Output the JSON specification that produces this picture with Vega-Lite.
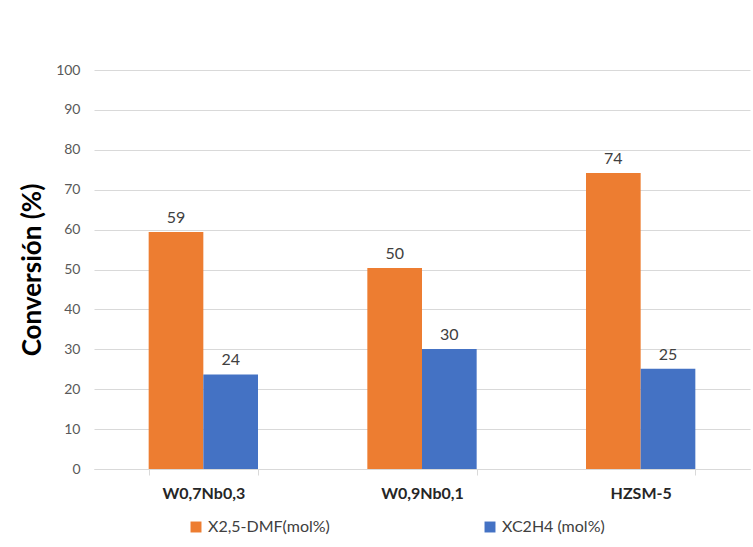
{
  "$schema": "https://vega.github.io/schema/vega-lite/v6.json",
  "autosize": {"type": "none"},
  "width": 656,
  "height": 399,
  "padding": {"left": 94, "top": 70, "right": 3, "bottom": 78},
  "background": "white",
  "config": {
    "font": "Lato",
    "view": {"stroke": null},
    "axis": {"labelFont": "Lato", "titleFont": "Lato"}
  },
  "data": {
    "values": [
      {"catalizador": "W0,7Nb0,3", "serie": "X2,5-DMF(mol%)", "conversion": 59.4},
      {"catalizador": "W0,7Nb0,3", "serie": "XC2H4 (mol%)", "conversion": 23.7},
      {"catalizador": "W0,9Nb0,1", "serie": "X2,5-DMF(mol%)", "conversion": 50.4},
      {"catalizador": "W0,9Nb0,1", "serie": "XC2H4 (mol%)", "conversion": 30.1},
      {"catalizador": "HZSM-5", "serie": "X2,5-DMF(mol%)", "conversion": 74.2},
      {"catalizador": "HZSM-5", "serie": "XC2H4 (mol%)", "conversion": 25.1}
    ]
  },
  "encoding": {
    "x": {
      "field": "catalizador",
      "type": "nominal",
      "sort": ["W0,7Nb0,3", "W0,9Nb0,1", "HZSM-5"],
      "scale": {"paddingInner": 0.5, "paddingOuter": 0.25},
      "axis": {
        "title": null,
        "labelAngle": 0,
        "labelFontWeight": "bold",
        "labelFontSize": 16,
        "labelColor": "#262626",
        "labelPadding": 10,
        "domainColor": "#d9d9d9",
        "tickColor": "#d9d9d9",
        "tickBand": "extent",
        "tickSize": 6
      }
    },
    "xOffset": {"field": "serie", "type": "nominal", "sort": ["X2,5-DMF(mol%)", "XC2H4 (mol%)"]},
    "y": {
      "field": "conversion",
      "type": "quantitative",
      "scale": {"domain": [0, 100]},
      "axis": {
        "title": "Conversión (%)",
        "titleFontSize": 26,
        "titleFontWeight": "bold",
        "titleColor": "#000000",
        "titlePadding": 10,
        "values": [0, 10, 20, 30, 40, 50, 60, 70, 80, 90, 100],
        "labelFontSize": 14,
        "labelColor": "#595959",
        "labelPadding": 14,
        "domain": false,
        "ticks": false,
        "gridColor": "#d9d9d9",
        "gridWidth": 1.2
      }
    }
  },
  "layer": [
    {
      "mark": {"type": "bar"},
      "encoding": {
        "color": {
          "field": "serie",
          "type": "nominal",
          "sort": ["X2,5-DMF(mol%)", "XC2H4 (mol%)"],
          "scale": {"range": ["#ED7D31", "#4472C4"]},
          "legend": {
            "title": null,
            "orient": "none",
            "direction": "horizontal",
            "columns": 2,
            "legendX": 94,
            "legendY": 449,
            "symbolType": "square",
            "symbolSize": 120,
            "symbolStrokeWidth": 0,
            "labelFontSize": 16,
            "labelColor": "#404040",
            "labelOffset": 4,
            "columnPadding": 152
          }
        }
      }
    },
    {
      "mark": {"type": "text", "dy": -14, "fontSize": 16, "color": "#404040"},
      "encoding": {
        "text": {"field": "conversion", "type": "quantitative", "format": ".0f"}
      }
    }
  ]
}
